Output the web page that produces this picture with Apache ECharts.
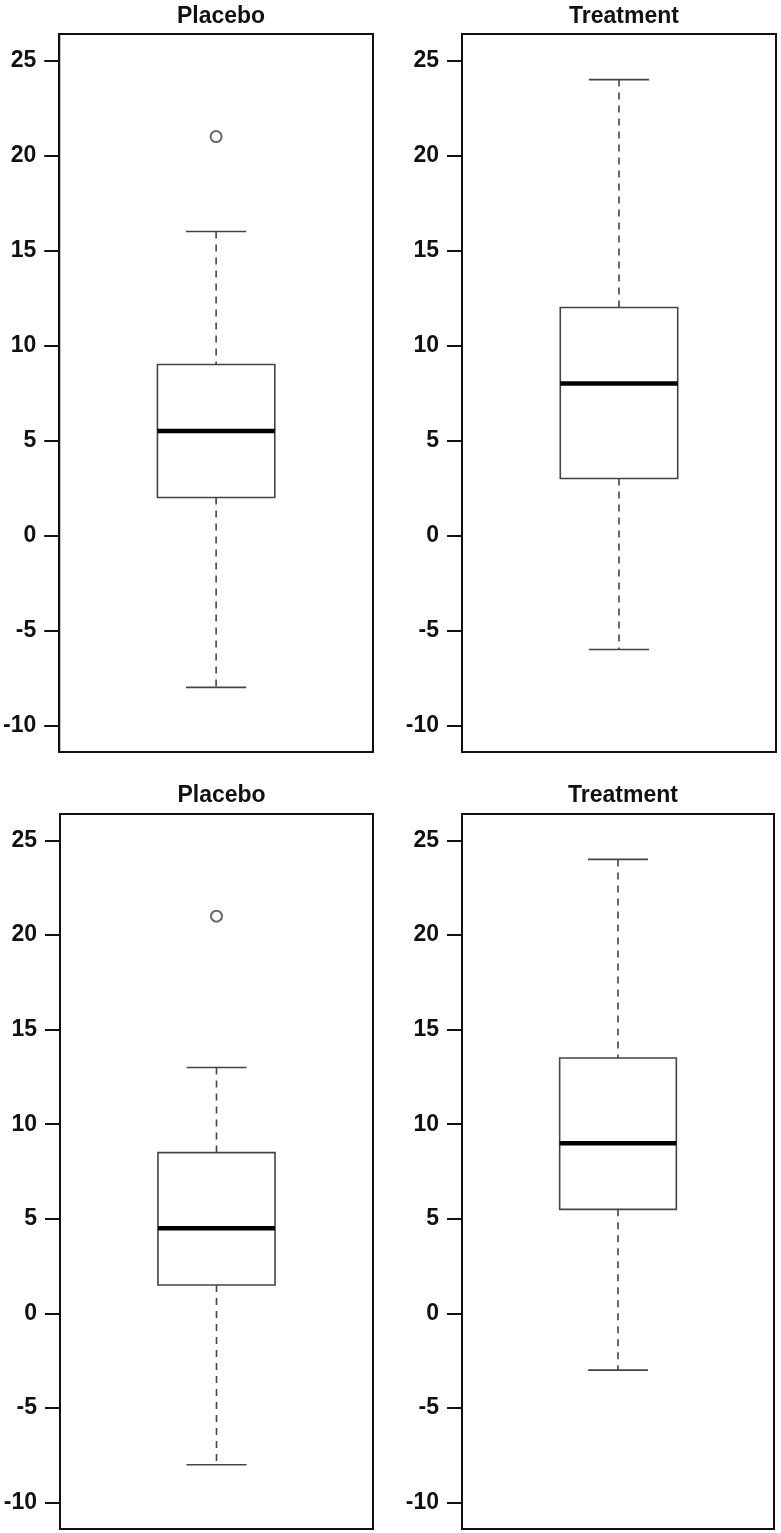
<!DOCTYPE html>
<html>
<head>
<meta charset="utf-8">
<script src="https://cdn.jsdelivr.net/npm/echarts@6/dist/echarts.min.js"></script>
<style>
html,body{margin:0;padding:0;background:#fff;}
#chart{width:781px;height:1533px;}
</style>
</head>
<body>
<div id="chart"></div>
<script>
// ---- data ----
const panelTitles = ['Placebo', 'Treatment', 'Placebo', 'Treatment'];
const lowerWhisker = [-8, -6, -8, -3];
const q1Values = [2, 3, 1.5, 5.5];
const medianValues = [5.5, 8, 4.5, 9];
const q3Values = [9, 12, 8.5, 13.5];
const upperWhisker = [16, 24, 13, 24];
const outlierValues = [[21], [], [21], []];
const yTicks = [-10, -5, 0, 5, 10, 15, 20, 25];
const yMin = -11.4, yMax = 26.4;

// ---- layout ----
const grids = [
  {left: 59, top: 34, width: 314, height: 718},
  {left: 462, top: 34, width: 314, height: 718},
  {left: 60, top: 814, width: 313, height: 715},
  {left: 462, top: 814, width: 312, height: 715}
];
const FONT = '"Liberation Sans", Arial, sans-serif';

const chart = echarts.init(document.getElementById('chart'), null, {renderer: 'canvas'});

function renderBox(params, api) {
  const x = api.value(0);
  const lo = api.value(1), q1 = api.value(2), md = api.value(3), q3 = api.value(4), hi = api.value(5);
  const band = api.size([1, 0])[0];
  const boxHalf = band * 0.187;
  const capHalf = band * 0.096;
  const pLo = api.coord([x, lo]), pQ1 = api.coord([x, q1]), pMd = api.coord([x, md]);
  const pQ3 = api.coord([x, q3]), pHi = api.coord([x, hi]);
  const cx = pMd[0];
  const dash = {stroke: '#444', lineWidth: 1.6, lineDash: [7, 6]};
  const solid = {stroke: '#444', lineWidth: 1.6};
  return {
    type: 'group',
    children: [
      {type: 'line', shape: {x1: cx, y1: pHi[1], x2: cx, y2: pQ3[1]}, style: dash},
      {type: 'line', shape: {x1: cx, y1: pQ1[1], x2: cx, y2: pLo[1]}, style: dash},
      {type: 'line', shape: {x1: cx - capHalf, y1: pHi[1], x2: cx + capHalf, y2: pHi[1]}, style: solid},
      {type: 'line', shape: {x1: cx - capHalf, y1: pLo[1], x2: cx + capHalf, y2: pLo[1]}, style: solid},
      {type: 'rect', shape: {x: cx - boxHalf, y: pQ3[1], width: boxHalf * 2, height: pQ1[1] - pQ3[1]},
        style: {fill: '#fff', stroke: '#444', lineWidth: 1.6}},
      {type: 'line', shape: {x1: cx - boxHalf, y1: pMd[1], x2: cx + boxHalf, y2: pMd[1]},
        style: {stroke: '#000', lineWidth: 4.5}}
    ]
  };
}

const option = {
  backgroundColor: '#fff',
  animation: false,
  title: panelTitles.map((t, i) => ({
    text: t,
    left: grids[i].left + grids[i].width / 2,
    top: i < 2 ? 0 : 779,
    textAlign: 'center',
    textStyle: {fontFamily: FONT, fontWeight: 'bold', fontSize: 23, color: '#111'}
  })),
  grid: grids.map(g => Object.assign({show: true, borderColor: '#111', borderWidth: 2, backgroundColor: 'transparent'}, g)),
  xAxis: grids.map((g, i) => ({
    type: 'category', gridIndex: i, data: [panelTitles[i]],
    show: false
  })),
  yAxis: grids.map((g, i) => ({
    type: 'value', gridIndex: i, min: yMin, max: yMax,
    splitLine: {show: false},
    axisLine: {show: true, lineStyle: {color: '#111', width: 2}},
    axisTick: {show: true, length: 15, customValues: yTicks, lineStyle: {color: '#111', width: 2}},
    axisLabel: {show: true, margin: 23, customValues: yTicks, fontFamily: FONT, fontWeight: 'bold', fontSize: 23, color: '#111'}
  })),
  series: []
};

for (let i = 0; i < 4; i++) {
  option.series.push({
    type: 'custom',
    xAxisIndex: i, yAxisIndex: i,
    renderItem: renderBox,
    encode: {x: 0, y: [1, 2, 3, 4, 5]},
    data: [[0, lowerWhisker[i], q1Values[i], medianValues[i], q3Values[i], upperWhisker[i]]],
    z: 2
  });
  option.series.push({
    type: 'scatter',
    xAxisIndex: i, yAxisIndex: i,
    symbol: 'circle', symbolSize: 11,
    itemStyle: {color: '#fff', borderColor: '#444', borderWidth: 2},
    data: outlierValues[i].map(v => [0, v]),
    z: 3
  });
}

chart.setOption(option);
</script>
</body>
</html>
